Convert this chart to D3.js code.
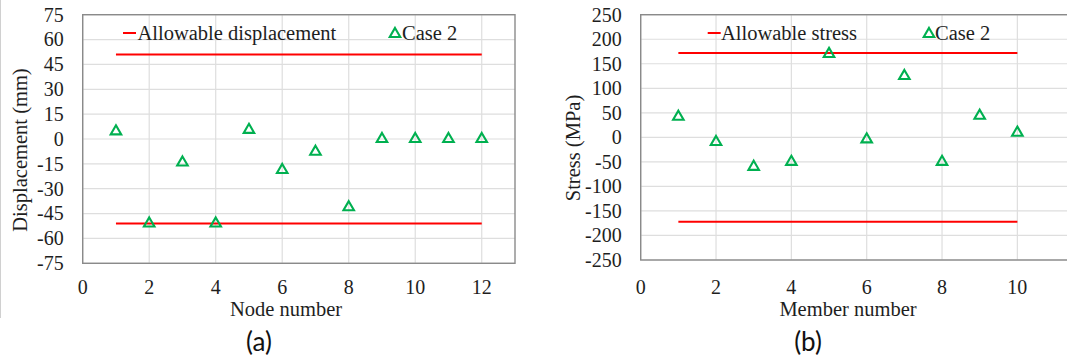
<!DOCTYPE html>
<html lang="en">
<head>
  <meta charset="UTF-8">
  <title></title>
  <style>
    html, body {
      margin: 0;
      background: #fff;
      overflow: hidden;
      width: 100%;
      height: 100%;
    }
    svg {
      position: absolute;
      top: 0;
      left: 0;
    }
    text {
      font-family: "Liberation Serif", "Times New Roman", serif;
      fill: #1e1e1e;
    }
    text.tag {
      font-family: Lato, "Open Sans", sans-serif;
      fill: #111;
    }
  </style>
</head>
<body>
  <svg width="1067" height="362"></svg>
</body>
<script src="https://d3js.org/d3.v7.min.js"></script>
<script type="text/javascript">
  // (a) nodal displacement
  const nodes = [1, 2, 3, 4, 5, 6, 7, 8, 9, 10, 11, 12]
  const displacement = [4.6, -51, -14.2, -51, 5.5, -18.7, -7.7, -41.2, 0, 0, 0, 0]
  const allowableDisp = 51
  const dispTicks = [-75, -60, -45, -30, -15, 0, 15, 30, 45, 60, 75]
  const nodeTicks = [0, 2, 4, 6, 8, 10, 12]

  // (b) member stress
  const members = [1, 2, 3, 4, 5, 6, 7, 8, 9, 10]
  const stress = [42, -9.5, -60, -50, 170, -4, 125, -50, 44, 9.5]
  const allowableStress = 172
  const stressTicks = [-250, -200, -150, -100, -50, 0, 50, 100, 150, 200, 250]
  const memberTicks = [0, 2, 4, 6, 8, 10]

  const svg = d3.select('svg')

  // faint frame line at the left edge of the figure
  svg.append('line')
    .attr('x1', 0.5).attr('y1', 0).attr('x2', 0.5).attr('y2', 318)
    .attr('stroke', '#d0d0d0')

  build({
    left: 82.7, right: 515, top: 14.7, bottom: 263.3,
    xDomain: [0, 13], yDomain: [-75, 75],
    xs: nodes, ys: displacement, limit: allowableDisp,
    xTicks: nodeTicks, yTicks: dispTicks,
    xTitle: 'Node number', xTitleX: 286,
    yTitle: 'Displacement (mm)', yTitleX: 20, yTitleY: 150,
    legLine: 123, legText: 137.5, legLine2: 395, legText2: 402,
    legName: 'Allowable displacement',
    tag: '(a)', tagX: 259
  })

  build({
    left: 640.7, right: 1092.7, top: 14.7, bottom: 260,
    xDomain: [0, 12], yDomain: [-250, 250],
    xs: members, ys: stress, limit: allowableStress,
    xTicks: memberTicks, yTicks: stressTicks,
    xTitle: 'Member number', xTitleX: 848,
    yTitle: 'Stress (MPa)', yTitleX: 573, yTitleY: 148,
    legLine: 707.7, legText: 721, legLine2: 929, legText2: 935,
    legName: 'Allowable stress',
    tag: '(b)', tagX: 808
  })

  function build(c) {
    const x = d3.scaleLinear().domain(c.xDomain).range([c.left, c.right])
    const y = d3.scaleLinear().domain(c.yDomain).range([c.bottom, c.top])
    const g = svg.append('g')

    // grid
    g.selectAll('line.hgrid')
      .data(c.yTicks)
      .enter()
      .append('line')
      .attr('class', 'hgrid')
      .attr('x1', c.left).attr('x2', c.right)
      .attr('y1', d => y(d)).attr('y2', d => y(d))
      .attr('stroke', '#dedede')
      .attr('stroke-width', 1.2)

    g.selectAll('line.vgrid')
      .data(c.xTicks)
      .enter()
      .append('line')
      .attr('class', 'vgrid')
      .attr('x1', d => x(d)).attr('x2', d => x(d))
      .attr('y1', c.top).attr('y2', c.bottom)
      .attr('stroke', '#dedede')
      .attr('stroke-width', 1.2)

    // plot frame
    g.append('rect')
      .attr('x', c.left).attr('y', c.top)
      .attr('width', c.right - c.left).attr('height', c.bottom - c.top)
      .attr('fill', 'none')
      .attr('stroke', '#8a8a8a')
      .attr('stroke-width', 1.4)

    // tick labels
    g.selectAll('text.ytick')
      .data(c.yTicks)
      .enter()
      .append('text')
      .attr('class', 'ytick')
      .attr('x', c.left - 19)
      .attr('y', d => y(d))
      .attr('dy', '0.34em')
      .attr('text-anchor', 'end')
      .style('font-size', '20px')
      .text(d => d)

    g.selectAll('text.xtick')
      .data(c.xTicks)
      .enter()
      .append('text')
      .attr('class', 'xtick')
      .attr('x', d => x(d))
      .attr('y', 287)
      .attr('dy', '0.34em')
      .attr('text-anchor', 'middle')
      .style('font-size', '20px')
      .text(d => d)

    // titles
    g.append('text')
      .attr('x', c.xTitleX).attr('y', 309)
      .attr('dy', '0.34em')
      .attr('text-anchor', 'middle')
      .style('font-size', '20.5px')
      .text(c.xTitle)

    g.append('text')
      .attr('transform', 'translate(' + c.yTitleX + ',' + c.yTitleY + ') rotate(-90)')
      .attr('dy', '0.34em')
      .attr('text-anchor', 'middle')
      .style('font-size', '20.5px')
      .text(c.yTitle)

    // allowable limits
    const xExt = d3.extent(c.xs)
    g.selectAll('line.limit')
      .data([c.limit, -c.limit])
      .enter()
      .append('line')
      .attr('class', 'limit')
      .attr('x1', x(xExt[0])).attr('x2', x(xExt[1]))
      .attr('y1', d => y(d)).attr('y2', d => y(d))
      .attr('stroke', '#ff0000')
      .attr('stroke-width', 2)

    // points
    const tri = d3.symbol(d3.symbolTriangle).size(48)
    g.selectAll('path.pt')
      .data(c.xs.map((v, i) => [v, c.ys[i]]))
      .enter()
      .append('path')
      .attr('class', 'pt')
      .attr('d', tri)
      .attr('transform', d => 'translate(' + x(d[0]) + ',' + y(d[1]) + ')')
      .attr('fill', 'none')
      .attr('stroke', '#00b050')
      .attr('stroke-width', 2.1)

    // legend
    const ly = 33
    g.append('line')
      .attr('x1', c.legLine).attr('x2', c.legLine + 13)
      .attr('y1', ly).attr('y2', ly)
      .attr('stroke', '#ff0000')
      .attr('stroke-width', 2)
    g.append('text')
      .attr('x', c.legText).attr('y', ly)
      .attr('dy', '0.34em')
      .style('font-size', '20.5px')
      .text(c.legName)
    g.append('path')
      .attr('d', tri)
      .attr('transform', 'translate(' + c.legLine2 + ',' + (ly + 1) + ')')
      .attr('fill', 'none')
      .attr('stroke', '#00b050')
      .attr('stroke-width', 2.1)
    g.append('text')
      .attr('x', c.legText2).attr('y', ly)
      .attr('dy', '0.34em')
      .style('font-size', '20.5px')
      .text('Case 2')

    // panel tag
    g.append('text')
      .attr('class', 'tag')
      .attr('x', c.tagX).attr('y', 342)
      .attr('dy', '0.36em')
      .attr('text-anchor', 'middle')
      .style('font-size', '26px')
      .text(c.tag)
  }
</script>
</html>
